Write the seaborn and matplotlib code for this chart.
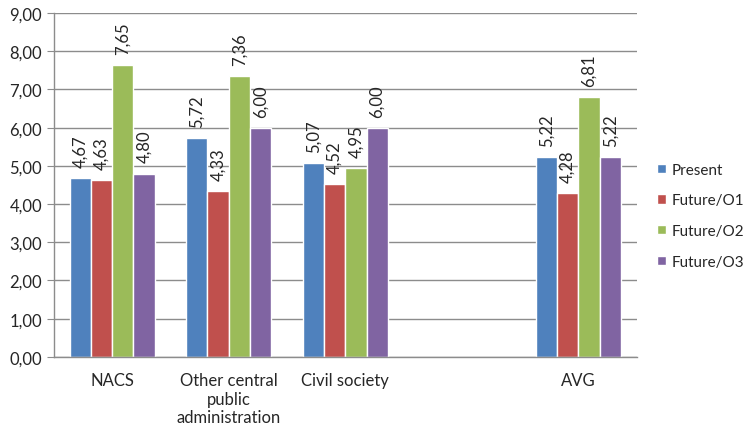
import matplotlib
matplotlib.use("Agg")
import matplotlib.pyplot as plt
import matplotlib.ticker as mticker
import numpy as np
import pandas as pd
import seaborn as sns

categories = ["NACS", "Other central\npublic\nadministration", "Civil society", " ", "AVG"]
series = ["Present", "Future/O1", "Future/O2", "Future/O3"]
present = [4.67, 5.72, 5.07, np.nan, 5.22]
future_o1 = [4.63, 4.33, 4.52, np.nan, 4.28]
future_o2 = [7.65, 7.36, 4.95, np.nan, 6.81]
future_o3 = [4.80, 6.00, 6.00, np.nan, 5.22]
colors = ["#4F81BD", "#C0504D", "#9BBB59", "#8064A2"]

rows = []
for name, vals in zip(series, [present, future_o1, future_o2, future_o3]):
    for cat, v in zip(categories, vals):
        rows.append({"category": cat, "series": name, "value": v})
df = pd.DataFrame(rows)

sns.set_style("white")
plt.rcParams["font.family"] = ["Lato", "DejaVu Sans"]

fig = plt.figure(figsize=(7.49, 4.27), dpi=100)
ax = fig.add_axes([0.072, 0.162, 0.778, 0.805])

sns.barplot(data=df, x="category", y="value", hue="series", order=categories,
            hue_order=series, palette=colors, width=0.73, saturation=1,
            ax=ax, legend=True, errorbar=None)

for cont in ax.containers:
    labels = []
    for b in cont:
        h = b.get_height()
        labels.append("" if np.isnan(h) else f"{h:.2f}".replace(".", ","))
    ax.bar_label(cont, labels=labels, rotation=90, padding=8, fontsize=12, color="#262626")

ax.set_ylim(0, 9)
ax.set_xlim(-0.5, 4.5)
ax.yaxis.set_major_locator(mticker.MultipleLocator(1))
ax.yaxis.set_major_formatter(mticker.FuncFormatter(lambda v, p: f"{v:.2f}".replace(".", ",")))
ax.grid(axis="y", color="#8c8c8c", linewidth=1)
ax.set_axisbelow(True)
ax.set_xlabel("")
ax.set_ylabel("")

for s in ["top", "right"]:
    ax.spines[s].set_visible(False)
for s in ["left", "bottom"]:
    ax.spines[s].set_color("#8c8c8c")
    ax.spines[s].set_linewidth(1)

ax.set_xticks(range(len(categories)))
ax.set_xticklabels(categories, fontsize=12, color="#262626", linespacing=1.2)
ax.set_xticks(np.arange(-0.5, len(categories)), minor=True)
ax.tick_params(axis="x", which="major", length=0, pad=11)
ax.tick_params(axis="x", which="minor", length=5, color="#8c8c8c", direction="out")
ax.tick_params(axis="y", length=5, color="#8c8c8c", direction="out", labelsize=12,
               labelcolor="#262626", left=True)

leg = ax.legend(loc="center left", bbox_to_anchor=(1.025, 0.41), frameon=False,
                fontsize=11, handlelength=0.55, handleheight=0.55, handletextpad=0.4,
                labelspacing=1.1, labelcolor="#262626", borderaxespad=0.0)

fig.savefig("out.png", dpi=100)
